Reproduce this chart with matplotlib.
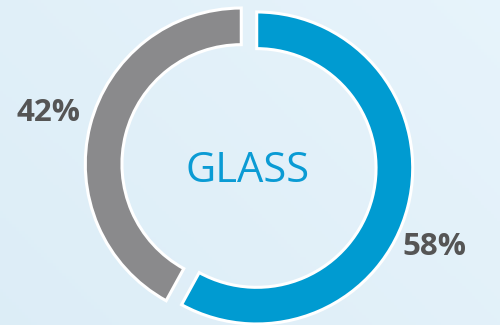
import numpy as np
import matplotlib
matplotlib.use("Agg")
import matplotlib.pyplot as plt

# Data
categories = ["Glass", "Other"]
values = [58, 42]
colors = ["#009BD1", "#8A8A8C"]
center_label = "GLASS"

fig = plt.figure(figsize=(5, 3.25), dpi=100)

# background gradient
bg = fig.add_axes([0, 0, 1, 1], zorder=0)
yy, xx = np.mgrid[0:1:100j, 0:1:160j]
g = 0.6 * xx + 0.4 * (1 - yy)
c0 = np.array([0.865, 0.930, 0.968])
c1 = np.array([0.905, 0.955, 0.985])
img = c0[None, None, :] * (1 - g[..., None]) + c1[None, None, :] * g[..., None]
bg.imshow(img, extent=[0, 1, 0, 1], aspect="auto", origin="upper")
bg.set_axis_off()

ax = fig.add_axes([0, 0, 1, 1], zorder=1)
ax.patch.set_alpha(0)
wedges, _ = ax.pie(values, colors=colors, startangle=90, counterclock=False,
                   radius=1.0, explode=[0.051, 0.051],
                   wedgeprops=dict(width=0.235, edgecolor="white", linewidth=2.2))
ax.set_xlim(-249/156, 251/156)
ax.set_ylim(-159/156, 166/156)
ax.set_aspect("auto")
ax.set_axis_off()

ax.text(-0.01, -0.032, center_label, ha="center", va="center", color="#0A9BD4",
        fontsize=30, family="Open Sans")
label_pos = [(1.186, -0.519), (-1.288, 0.34)]
for v, (x, y) in zip(values, label_pos):
    ax.text(x, y, f"{v}%", ha="center", va="center", color="#555555",
            fontsize=22.5, fontweight="bold", family="Open Sans")

fig.savefig("out.png", dpi=100)
